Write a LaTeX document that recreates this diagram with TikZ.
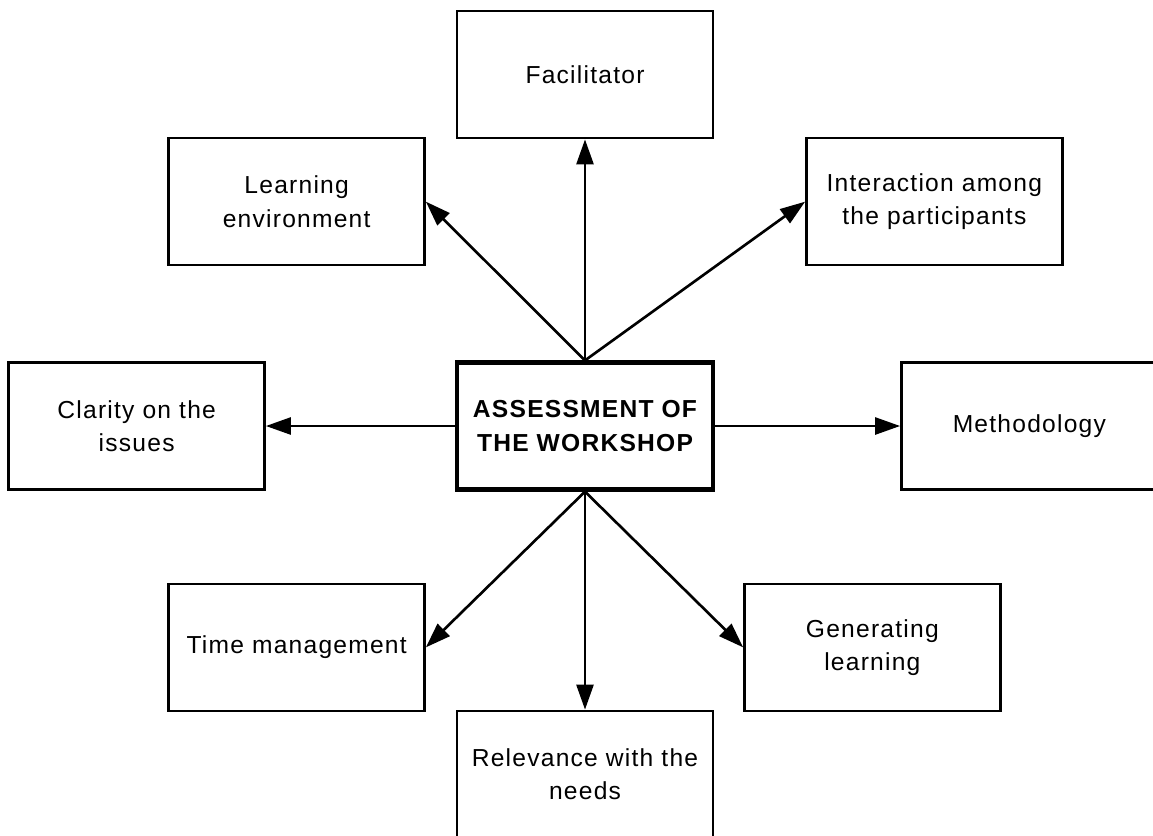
\documentclass[tikz,border=0pt]{standalone}
\usepackage{fontspec}
\setmainfont{Liberation Sans}[LetterSpace=5]
\usepackage{tikz}
\usetikzlibrary{arrows.meta,positioning}

\begin{document}
\begin{tikzpicture}[
    item/.style={draw,line width=1.4pt,align=center,minimum width=5.12cm,minimum height=2.54cm,inner sep=0pt,font=\fontsize{14}{19}\selectfont},
    hub/.style={item,line width=2.4pt,font=\fontsize{14}{19}\selectfont\bfseries},
    link/.style={-{Triangle[length=5mm,width=3.4mm]},line width=1.5pt}
  ]
    \useasboundingbox (0,0) rectangle (23.06,-16.7);
    % centre
    \node[hub] (hub) at (11.70,-8.52) {ASSESSMENT OF\\THE WORKSHOP};
    % surrounding aspects
    \node[item,above=4.42cm of hub] (facil) {Facilitator};
    \node[item,above left=1.88cm and 0.58cm of hub] (learn) {Learning\\environment};
    \node[item,above right=1.88cm and 1.80cm of hub] (inter) {Interaction among\\the participants};
    \node[item,left=3.78cm of hub] (clarity) {Clarity on the\\issues};
    \node[item,right=3.70cm of hub] (method) {Methodology};
    \node[item,below left=1.82cm and 0.58cm of hub] (timemgmt) {Time management};
    \node[item,below=4.36cm of hub] (relev) {Relevance with the\\needs};
    \node[item,below right=1.82cm and 0.56cm of hub] (gener) {Generating\\learning};
    % arrows out of the centre
    \draw[link] (hub.north) -- (facil.south);
    \draw[link] (hub.north) -- (learn.east);
    \draw[link] (hub.north) -- (inter.west);
    \draw[link] (hub.west) -- (clarity.east);
    \draw[link] (hub.east) -- (method.west);
    \draw[link] (hub.south) -- (timemgmt.east);
    \draw[link] (hub.south) -- (relev.north);
    \draw[link] (hub.south) -- (gener.west);
\end{tikzpicture}
\end{document}
